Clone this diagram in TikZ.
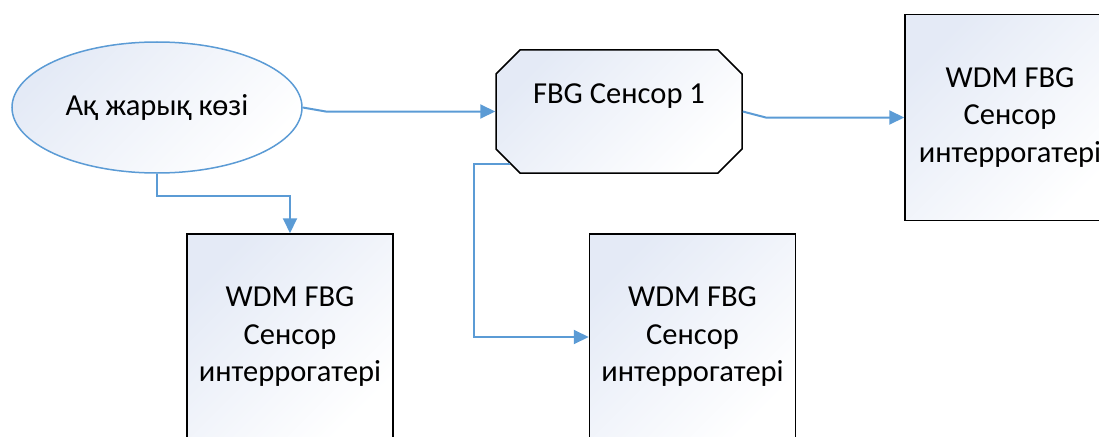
\documentclass[tikz,border=0pt]{standalone}
\usepackage{fontspec}
\setmainfont{Carlito}
\usetikzlibrary{shapes.geometric,shapes.misc,arrows.meta,positioning}
\definecolor{linkblue}{HTML}{5B9BD5}
\definecolor{shadeblue}{HTML}{E4EAF6}

\begin{document}
\begin{tikzpicture}[x=1pt,y=-1pt,
    every node/.style={font=\fontsize{30.5}{37.5}\selectfont},
    fillsh/.style={top color=shadeblue,bottom color=white,shading angle=45},
    box/.style={draw=black,line width=1.5pt,fillsh,minimum width=206pt,minimum height=206pt,align=center,inner sep=0pt},
    conn/.style={draw=linkblue,line width=2pt,-{Triangle[length=15pt,width=14pt]}}]
      \useasboundingbox (0,0) rectangle (1099,436);
      \clip (0,0) rectangle (1099,436);
      \node[ellipse,draw=linkblue,line width=1.5pt,fillsh,minimum width=290pt,minimum height=131pt,inner sep=0pt] (src) at (157,107.5) {Ақ жарық көзі};
      \node[chamfered rectangle,chamfered rectangle xsep=12pt,chamfered rectangle ysep=12pt,draw=black,line width=1.5pt,fillsh,minimum width=246pt,minimum height=123pt,inner sep=0pt,text height=22pt,text depth=39pt] (fbg) at (619,111.5) {FBG Сенсор 1};
      \node[box,minimum width=210pt] (wdmR) at (1010,117.5) {WDM FBG\\Сенсор\\интеррогатері};
      \node[box] (wdmL) at (290,337) {WDM FBG\\Сенсор\\интеррогатері};
      \node[box] (wdmM) [right=195pt of wdmL] {WDM FBG\\Сенсор\\интеррогатері};
      \draw[conn] (src.east) -- ++(23,4) -- (fbg.west);
      \draw[conn] (fbg.east) -- ++(23,6) -- (wdmR.west);
      \draw[conn] (src.south) -- ++(0,22) -| (wdmL.north);
      \draw[conn] (fbg.206) -- ++(-36,0) |- (wdmM.west);
    \end{tikzpicture}
\end{document}
